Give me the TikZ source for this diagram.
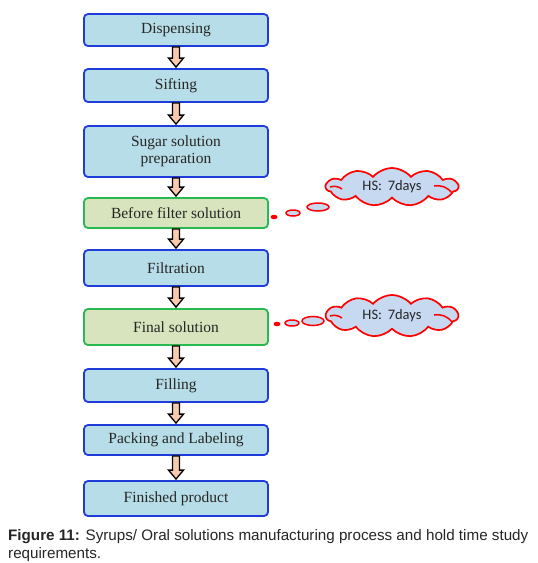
\documentclass[tikz,border=0pt]{standalone}
\usepackage{fontspec}
\setmainfont{Liberation Serif}
\newfontfamily\capfont{Liberation Sans}
\newfontfamily\cloudfont{Carlito}
\usetikzlibrary{shapes.symbols,shapes.geometric,calc}
\definecolor{boxblue}{RGB}{183,222,232}
\definecolor{edgeblue}{RGB}{30,60,220}
\definecolor{boxgreen}{RGB}{215,228,189}
\definecolor{edgegreen}{RGB}{40,185,80}
\definecolor{cloudfill}{RGB}{198,217,241}
\definecolor{arrfill}{RGB}{248,203,173}
\tikzset{
  stepbox/.style={rectangle, rounded corners=4pt, line width=1.8pt, draw=edgeblue, fill=boxblue,
    minimum width=184pt, align=center, font=\fontsize{15.5}{17}\selectfont, inner sep=0pt, text=black!85},
  holdbox/.style={stepbox, draw=edgegreen, fill=boxgreen},
  blockarr/.style={draw=black, line width=1.3pt, fill=arrfill, line join=miter},
  hscloud/.style={cloud, cloud puffs=11, cloud puff arc=100, aspect=3, draw=red, line width=1.7pt,
    fill=cloudfill, minimum width=132pt, minimum height=38pt, inner sep=0pt,
    font=\cloudfont\fontsize{14.5}{16}\selectfont, text=black!85},
  inarc/.style={draw=red, line width=1.5pt},
  bubble/.style={ellipse, draw=red, line width=1.5pt, fill=cloudfill, inner sep=0pt},
  dotb/.style={ellipse, fill=red, inner sep=0pt, minimum width=7pt, minimum height=4.5pt}
}
\newcommand{\blockarrow}[2]{%
  \draw[blockarr] let \p1=(#1.south), \p2=(#2.north) in
    (\x1-3.5pt,\y1) -- (\x1+3.5pt,\y1) -- (\x1+3.5pt,\y2+10pt) -- (\x1+7.5pt,\y2+10pt) --
    (\x1,\y2+1pt) -- (\x1-7.5pt,\y2+10pt) -- (\x1-3.5pt,\y2+10pt) -- cycle;}
\begin{document}
\begin{tikzpicture}[x=1pt,y=-1pt]
\useasboundingbox[fill=white] (0,0) rectangle (538,563);
\node[stepbox, minimum height=32pt] (disp) at (176,30) {Dispensing};
\node[stepbox, minimum height=33pt] (sift) at (176,85.5) {Sifting};
\node[stepbox, minimum height=51pt] (sugar) at (176,151.5) {Sugar solution\\preparation};
\node[holdbox, minimum height=30pt] (bfs) at (176,213) {Before filter solution};
\node[stepbox, minimum height=36pt] (filt) at (176,268) {Filtration};
\node[holdbox, minimum height=36pt] (fin) at (176,327) {Final solution};
\node[stepbox, minimum height=33pt] (fill) at (176,385.5) {Filling};
\node[stepbox, minimum height=30pt] (pack) at (176,440) {Packing and Labeling};
\node[stepbox, minimum height=35pt] (prod) at (176,498.5) {Finished product};

\blockarrow{disp}{sift}
\blockarrow{sift}{sugar}
\blockarrow{sugar}{bfs}
\blockarrow{bfs}{filt}
\blockarrow{filt}{fin}
\blockarrow{fin}{fill}
\blockarrow{fill}{pack}
\blockarrow{pack}{prod}

% hold time clouds
\node[hscloud] (c1) at (392,187) {HS:\, 7days};
\draw[inarc] ($(c1.center)+(-62,0)$) to[bend left=25] ($(c1.center)+(-50,2)$);
\draw[inarc] ($(c1.center)+(42,-1)$) to[bend left=30] ($(c1.center)+(60,6)$);
\node[dotb] (c1a) at (274,217) {};
\node[bubble, minimum width=14pt, minimum height=6pt] (c1b) at (293,213) {};
\node[bubble, minimum width=22pt, minimum height=8pt] (c1c) at (318,207) {};

\node[hscloud, minimum height=42pt] (c2) at (392,316) {HS:\, 7days};
\draw[inarc] ($(c2.center)+(-62,0)$) to[bend left=25] ($(c2.center)+(-50,2)$);
\draw[inarc] ($(c2.center)+(42,-1)$) to[bend left=30] ($(c2.center)+(60,6)$);
\node[dotb] (c2a) at (277,324) {};
\node[bubble, minimum width=14pt, minimum height=6pt] (c2b) at (292,323) {};
\node[bubble, minimum width=22pt, minimum height=9pt] (c2c) at (313,321) {};

\node[anchor=base west, inner sep=0pt, font=\capfont\fontsize{15.2}{18}\selectfont, text=black!85]
  (cap1) at (8,540) {\textbf{Figure 11:} Syrups/ Oral solutions manufacturing process and hold time study};
\node[anchor=base west, inner sep=0pt, font=\capfont\fontsize{15.2}{18}\selectfont, text=black!85]
  (cap2) at (8,558) {requirements.};
\end{tikzpicture}
\end{document}
